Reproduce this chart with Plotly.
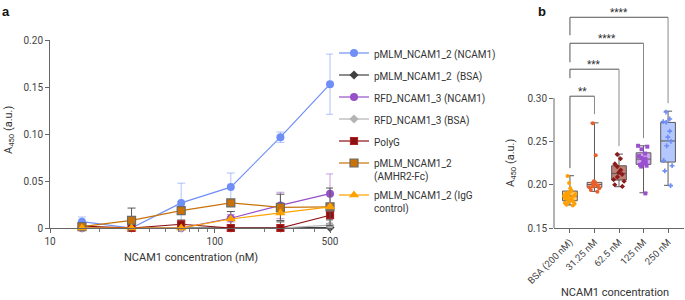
import plotly.graph_objects as go

# ---------------- Panel a data ----------------
conc = [15.625, 31.25, 62.5, 125, 250, 500]

names = [
    "pMLM_NCAM1_2 (NCAM1)",
    "pMLM_NCAM1_2  (BSA)",
    "RFD_NCAM1_3 (NCAM1)",
    "RFD_NCAM1_3 (BSA)",
    "PolyG",
    "pMLM_NCAM1_2<br>(AMHR2-Fc)",
    "pMLM_NCAM1_2 (IgG<br>control)",
]

pmlm_ncam1 = [0.0067, 0.0, 0.0267, 0.0435, 0.0966, 0.153]
pmlm_ncam1_err = [0.005, 0.0, 0.021, 0.015, 0.0055, 0.032]
pmlm_bsa = [0.0, 0.0, 0.0, 0.0, 0.0, 0.0005]
pmlm_bsa_err = [0.0, 0.0, 0.0, 0.0175, 0.0065, 0.004]
rfd_ncam1 = [0.0, 0.0, 0.0, 0.0104, 0.0240, 0.0365]
rfd_ncam1_err = [0.0, 0.0, 0.0, 0.004, 0.014, 0.021]
rfd_bsa = [0.0, 0.0, 0.0, 0.0, 0.0, 0.0030]
rfd_bsa_err = [0.0, 0.0, 0.0, 0.0, 0.0, 0.002]
polyg = [0.0020, 0.0, 0.0040, 0.0, 0.0, 0.0136]
polyg_err = [0.0, 0.0, 0.0045, 0.0, 0.0, 0.005]
amhr2 = [0.0015, 0.0082, 0.0185, 0.0267, 0.0220, 0.0225]
amhr2_err = [0.0, 0.0130, 0.0, 0.0025, 0.014, 0.020]
igg = [0.0, 0.0, 0.0, 0.0096, 0.0160, 0.0225]
igg_err = [0.0, 0.0, 0.0, 0.0, 0.0, 0.003]

# ---------------- Panel b data ----------------
cats = ["BSA (200 nM)", "31.25 nM", "62.5 nM", "125 nM", "250 nM"]
q1 = [0.1815, 0.1970, 0.2054, 0.2235, 0.2262]
median = [0.1870, 0.2003, 0.2130, 0.2296, 0.2506]
q3 = [0.1927, 0.2027, 0.2219, 0.2369, 0.2720]
lowf = [0.1766, 0.1923, 0.1977, 0.1907, 0.1993]
upf = [0.2104, 0.2715, 0.2354, 0.2450, 0.2850]

pts_bsa = [0.210, 0.202, 0.196, 0.193, 0.192, 0.191, 0.190, 0.189, 0.189, 0.188,
           0.187, 0.187, 0.186, 0.185, 0.184, 0.183, 0.182, 0.182, 0.181, 0.180,
           0.179, 0.178, 0.177, 0.176]
pts_31 = [0.271, 0.234, 0.204, 0.203, 0.202, 0.201, 0.200, 0.200, 0.199, 0.198,
          0.197, 0.196, 0.194, 0.192]
pts_62 = [0.235, 0.230, 0.224, 0.221, 0.217, 0.214, 0.212, 0.209, 0.206, 0.204,
          0.200, 0.198]
pts_125 = [0.245, 0.244, 0.241, 0.236, 0.233, 0.231, 0.230, 0.228, 0.226, 0.224,
           0.223, 0.222, 0.221, 0.190]
pts_250 = [0.284, 0.276, 0.273, 0.272, 0.262, 0.255, 0.250, 0.245, 0.228, 0.222,
           0.216, 0.199]
points = [pts_bsa, pts_31, pts_62, pts_125, pts_250]

# significance brackets
br_a = [0, 0, 0, 0]
br_b = [1, 2, 3, 4]
br_top = [0.3023, 0.3335, 0.3635, 0.3935]
br_left = [0.2192, 0.3231, 0.3415, 0.3727]
br_right = [0.2815, 0.2446, 0.2538, 0.2942]
br_text = ["**", "***", "****", "****"]

FONT = "Roboto, Open Sans, sans-serif"
TXT = "#333333"

fig = go.Figure()

series = [
    (pmlm_ncam1, pmlm_ncam1_err, "#6f8ff7", "circle", 8, "rgba(111,143,247,0.55)", None),
    (pmlm_bsa, pmlm_bsa_err, "#404040", "diamond", 7, "#555555", None),
    (rfd_ncam1, rfd_ncam1_err, "#9650c8", "circle", 8, "rgba(150,80,200,0.55)", None),
    (rfd_bsa, rfd_bsa_err, "#b3b3b3", "diamond", 7, "#aaaaaa", None),
    (polyg, polyg_err, "#8b1010", "square", 7, "#555555", "#b02020"),
    (amhr2, amhr2_err, "#c87208", "square", 8, "#555555", "#6a6a6a"),
    (igg, igg_err, "#ffa200", "triangle-up", 9, "#777777", None),
]

for i in range(7):
    vals, errs, col, sym, sz, ecol, lcol = series[i]
    fig.add_trace(go.Scatter(
        x=conc, y=vals, name=names[i], mode="lines+markers",
        line=dict(color=col, width=1.2),
        marker=dict(color=col, symbol=sym, size=sz,
                    line=dict(color=lcol if lcol else col, width=1.2 if lcol else 0)),
        error_y=dict(type="data", array=errs, color=ecol, thickness=1, width=4),
        cliponaxis=False, legendgroup="g%d" % i,
        xaxis="x", yaxis="y",
    ))

# ---- panel b boxes ----
box_fill = ["rgba(255,165,0,0.55)", "rgba(240,140,110,0.55)", "rgba(165,85,70,0.75)",
            "rgba(190,140,225,0.75)", "rgba(150,175,255,0.7)"]
pt_col = ["#ffa000", "#e8602c", "#8b1a1a", "#9b50d0", "#6f8ff7"]
pt_sym = ["circle", "circle", "diamond", "square", "cross"]
for k in range(5):
    fig.add_trace(go.Box(
        x=[cats[k]], q1=[q1[k]], median=[median[k]], q3=[q3[k]],
        lowerfence=[lowf[k]], upperfence=[upf[k]],
        fillcolor=box_fill[k], line=dict(color="#5a5a5a", width=1),
        width=0.6, whiskerwidth=0.55, boxpoints=False, showlegend=False,
        xaxis="x2", yaxis="y2",
    ))
for k in range(5):
    fig.add_trace(go.Box(
        x=[cats[k]] * len(points[k]), y=points[k],
        boxpoints="all", jitter=0.9, pointpos=0, width=0.6,
        fillcolor="rgba(0,0,0,0)", line=dict(color="rgba(0,0,0,0)", width=0),
        marker=dict(color=pt_col[k], size=4, symbol=pt_sym[k]),
        showlegend=False, xaxis="x2", yaxis="y2",
    ))

shapes = []
shapes.append(dict(type="line", xref="x2 domain", yref="y2", x0=0, x1=0,
                   y0=0.15, y1=0.30, line=dict(color="#666666", width=1)))
annotations = []
for j in range(4):
    c = "#555555"
    shapes.append(dict(type="line", xref="x2", yref="y2", x0=br_a[j], x1=br_a[j],
                       y0=br_left[j], y1=br_top[j], line=dict(color=c, width=1)))
    shapes.append(dict(type="line", xref="x2", yref="y2", x0=br_a[j], x1=br_b[j],
                       y0=br_top[j], y1=br_top[j], line=dict(color=c, width=1)))
    shapes.append(dict(type="line", xref="x2", yref="y2", x0=br_b[j], x1=br_b[j],
                       y0=br_right[j], y1=br_top[j], line=dict(color="#8a8a8a", width=1)))
    annotations.append(dict(xref="x2", yref="y2", x=(br_a[j] + br_b[j]) / 2, y=br_top[j],
                            text=br_text[j], showarrow=False, yanchor="bottom",
                            xanchor="center", yshift=-3,
                            font=dict(size=10, color=TXT, family=FONT)))


def px_ann(x, y, text, size=11, angle=0, xa="center", ya="middle", family=FONT,
           color=TXT):
    return dict(xref="paper", yref="paper", x=x / 685, y=(228 - y) / 225,
                xanchor=xa, yanchor=ya, textangle=angle, text=text, showarrow=False,
                font=dict(size=size, color=color, family=family))


annotations += [
    px_ann(0, 2, "<b>a</b>", size=13, xa="left", ya="top",
           family="Liberation Sans, Arial", color="#111"),
    px_ann(536, 2, "<b>b</b>", size=13, xa="left", ya="top",
           family="Liberation Sans, Arial", color="#111"),
    px_ann(9, 130, "A<sub>450</sub> (a.u.)", angle=-90),
    px_ann(511, 163, "A<sub>450</sub> (a.u.)", angle=-90),
    px_ann(191, 257, "NCAM1 concentration (nM)"),
    px_ann(615, 293, "NCAM1 concentration"),
]

axis_common = dict(showgrid=False, zeroline=False, showline=True, linecolor="#666666",
                   linewidth=1, ticks="outside", ticklen=4, tickcolor="#666666",
                   automargin=False,
                   tickfont=dict(size=10, color="#444444", family=FONT))

fig.update_layout(
    width=685, height=300, autosize=False,
    margin=dict(l=0, r=0, t=3, b=72, pad=0, autoexpand=False),
    paper_bgcolor="white", plot_bgcolor="white",
    font=dict(family=FONT, color=TXT),
    xaxis=dict(type="log", range=[1, 2.717], domain=[50 / 685, 333 / 685],
               tickvals=[10, 100, 500], ticktext=["10", "100", "500"], anchor="y",
               minor=dict(tickvals=[20, 30, 40, 50, 60, 70, 80, 90, 200, 300, 400],
                          ticks="outside", ticklen=3, tickcolor="#777777"),
               **axis_common),
    yaxis=dict(range=[0, 0.2], domain=[0, (228 - 40) / 225], anchor="x",
               tickvals=[0, 0.05, 0.10, 0.15, 0.20],
               ticktext=["0", "0.05", "0.10", "0.15", "0.20"], **axis_common),
    xaxis2=dict(type="category", range=[-0.65, 4.65], domain=[554 / 685, 684 / 685],
                anchor="y2", tickangle=-45, categoryorder="array", categoryarray=cats,
                **{**axis_common, "tickfont": dict(size=9.5, color="#444444", family=FONT)}),
    yaxis2=dict(range=[0.15, 0.41], domain=[0, 1], anchor="x2",
                tickvals=[0.15, 0.20, 0.25, 0.30],
                ticktext=["0.15", "0.20", "0.25", "0.30"],
                **{**axis_common, "showline": False}),
    boxmode="overlay",
    legend=dict(x=334 / 685, y=(228 - 40) / 225, xanchor="left", yanchor="top",
                bgcolor="rgba(0,0,0,0)", font=dict(size=10, color=TXT, family=FONT),
                tracegroupgap=3, valign="top", traceorder="grouped"),
    shapes=shapes, annotations=annotations,
)

fig.write_html("out.html",
               config={"displayModeBar": False},
               post_script="document.body.style.margin='0';"
                           "document.body.style.overflow='hidden';")
